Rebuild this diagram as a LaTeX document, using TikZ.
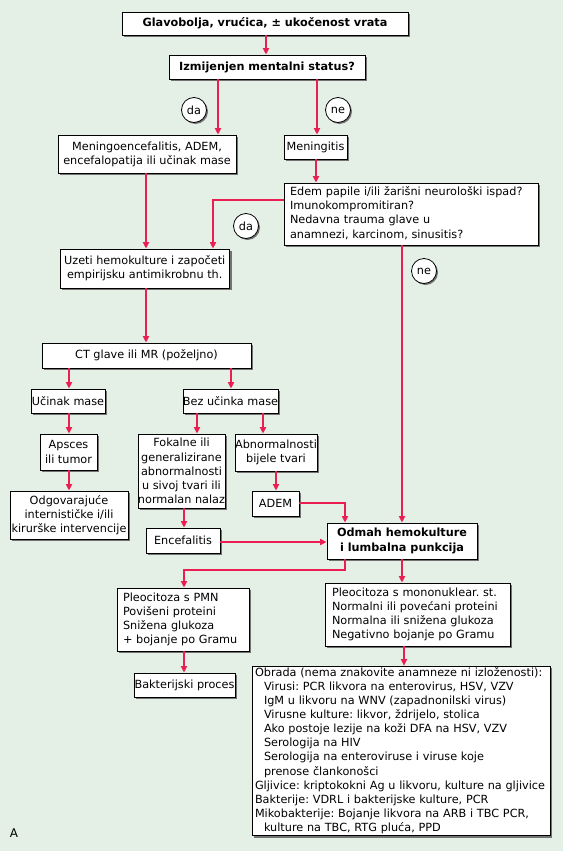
\documentclass[tikz,border=0pt]{standalone}
\usepackage{fontspec}
\setmainfont{DejaVu Sans}
\usetikzlibrary{arrows.meta,shadows}
\frenchspacing
\definecolor{bgc}{RGB}{228,240,230}
\definecolor{arrc}{RGB}{234,30,82}
\definecolor{shc}{RGB}{115,115,115}
\newcommand{\txtfont}{\fontsize{11.3}{14.2}\selectfont}
\newcommand{\lns}[1]{\begin{tabular}{@{}l@{}}#1\end{tabular}}
\tikzset{
  box/.style={draw=black, line width=0.8bp, fill=white, inner sep=0pt, align=center,
    font=\txtfont, drop shadow={shadow xshift=2bp, shadow yshift=-2bp, fill=shc, opacity=1}},
  lbox/.style={box, align=left},
  circ/.style={circle, draw=black, line width=0.8bp, fill=white, minimum size=25bp,
    inner sep=0pt, font=\txtfont, drop shadow={shadow xshift=1.5bp, shadow yshift=-1.5bp, fill=shc, opacity=1}},
  arr/.style={draw=arrc, line width=1.6bp, -{Triangle[length=6.5bp,width=6bp]}}
}
\begin{document}
\begin{tikzpicture}[x=1bp,y=-1bp]
\useasboundingbox (0,0) rectangle (563,851);
\fill[bgc] (0,0) rectangle (563,851);

\node[box, minimum width=286bp, minimum height=23bp, font=\txtfont\bfseries] (title) at (265,23.5) {Glavobolja, vrućica, ± ukočenost vrata};
\node[box, minimum width=196bp, minimum height=24bp, font=\txtfont\bfseries] (izm) at (267,67) {Izmijenjen mentalni status?};
\node[circ] (da1) at (194,110) {da};
\node[circ] (ne1) at (338,110) {ne};
\node[box, minimum width=178bp, minimum height=38bp] (meo) at (147,154) {Meningoencefalitis, ADEM,\\encefalopatija ili učinak mase};
\node[box, minimum width=63bp, minimum height=24bp] (men) at (315.5,147) {Meningitis};
\node[lbox, text width=242bp, inner xsep=6bp, minimum height=62bp] (edem) at (411,214) {\lns{Edem papile i/ili žarišni neurološki ispad?\\Imunokompromitiran?\\Nedavna trauma glave u\\anamnezi, karcinom, sinusitis?}};
\node[box, minimum width=169.5bp, minimum height=39bp] (uzeti) at (144.75,268.5) {Uzeti hemokulture i započeti\\empirijsku antimikrobnu th.};
\node[circ] (da2) at (246,226) {da};
\node[circ] (ne2) at (424,271) {ne};
\node[box, minimum width=209bp, minimum height=25bp] (ct) at (146.5,355.5) {CT glave ili MR (poželjno)};
\node[box, minimum width=74bp, minimum height=24bp] (ucm) at (68,401) {Učinak mase};
\node[box, minimum width=91bp, minimum height=24bp] (bez) at (230.5,401) {Bez učinka mase};
\node[box, minimum width=57bp, minimum height=36bp] (aps) at (68.5,452) {Apsces\\ili tumor};
\node[box, minimum width=118bp, minimum height=48bp] (odg) at (69,515) {Odgovarajuće\\internističke i/ili\\kirurške intervencije};
\node[box, minimum width=87bp, minimum height=74bp] (fok) at (181.5,471) {Fokalne ili\\generalizirane\\abnormalnosti\\u sivoj tvari ili\\normalan nalaz};
\node[box, minimum width=82bp, minimum height=37bp] (abn) at (276,452.5) {Abnormalnosti\\bijele tvari};
\node[box, minimum width=47bp, minimum height=25bp] (adem) at (275.5,503.5) {ADEM};
\node[box, minimum width=74bp, minimum height=25bp] (enc) at (183,540.5) {Encefalitis};
\node[box, minimum width=150bp, minimum height=36bp, font=\txtfont\bfseries] (odm) at (402,541) {Odmah hemokulture\\i lumbalna punkcija};
\node[lbox, text width=120bp, inner xsep=6bp, minimum height=63bp] (pmn) at (183,619.5) {\lns{Pleocitoza s PMN\\Povišeni proteini\\Snižena glukoza\\+ bojanje po Gramu}};
\node[lbox, text width=171bp, inner xsep=7bp, minimum height=63bp] (mono) at (417.5,614.5) {\lns{Pleocitoza s mononuklear. st.\\Normalni ili povećani proteini\\Normalna ili snižena glukoza\\Negativno bojanje po Gramu}};
\node[box, minimum width=101bp, minimum height=24bp] (bak) at (184.5,685) {Bakterijski proces};
\node[lbox, text width=292bp, inner xsep=3bp, minimum height=168bp] (obr) at (401,751) {\lns{Obrada (nema znakovite anamneze ni izloženosti):\\
\hspace*{9bp}Virusi: PCR likvora na enterovirus, HSV, VZV\\
\hspace*{9bp}IgM u likvoru na WNV (zapadnonilski virus)\\
\hspace*{9bp}Virusne kulture: likvor, ždrijelo, stolica\\
\hspace*{9bp}Ako postoje lezije na koži DFA na HSV, VZV\\
\hspace*{9bp}Serologija na HIV\\
\hspace*{9bp}Serologija na enteroviruse i viruse koje\\
\hspace*{9bp}prenose člankonošci\\
Gljivice: kriptokokni Ag u likvoru, kulture na gljivice\\
Bakterije: VDRL i bakterijske kulture, PCR\\
Mikobakterije: Bojanje likvora na ARB i TBC PCR,\\
\hspace*{9bp}kulture na TBC, RTG pluća, PPD}};
\node[font=\fontsize{12}{14}\selectfont, inner sep=0pt] (lblA) at (14,833) {A};

\draw[arr] (title.south -| 266,0) -- (izm.north -| 266,0);
\draw[arr] (izm.south -| 218,0) -- (meo.north -| 218,0);
\draw[arr] (izm.south -| 317,0) -- (men.north -| 317,0);
\draw[arr] (meo.south -| 146,0) -- (uzeti.north -| 146,0);
\draw[arr] (men.south -| 316,0) -- (edem.north -| 316,0);
\draw[arr] (edem.west |- 0,200) -| (uzeti.north -| 213,0);
\draw[arr] (edem.south -| 402,0) -- (odm.north -| 402,0);
\draw[arr] (uzeti.south -| 146,0) -- (ct.north -| 146,0);
\draw[arr] (ct.south -| 69,0) -- (ucm.north -| 69,0);
\draw[arr] (ct.south -| 231,0) -- (bez.north -| 231,0);
\draw[arr] (ucm.south -| 69,0) -- (aps.north -| 69,0);
\draw[arr] (aps.south -| 69,0) -- (odg.north -| 69,0);
\draw[arr] (bez.south -| 197,0) -- (fok.north -| 197,0);
\draw[arr] (bez.south -| 263,0) -- (abn.north -| 263,0);
\draw[arr] (abn.south -| 276,0) -- (adem.north -| 276,0);
\draw[arr] (adem.east |- 0,503) -| (odm.north -| 345,0);
\draw[arr] (fok.south -| 184,0) -- (enc.north -| 184,0);
\draw[arr] (enc.east |- 0,542) -- (odm.west |- 0,542);
\draw[arr] (odm.south -| 345,0) -- (345,570) -| (pmn.north -| 184,0);
\draw[arr] (odm.south -| 402,0) -- (mono.north -| 402,0);
\draw[arr] (pmn.south -| 184,0) -- (bak.north -| 184,0);
\draw[arr] (mono.south -| 404,0) -- (obr.north -| 404,0);
\end{tikzpicture}
\end{document}
